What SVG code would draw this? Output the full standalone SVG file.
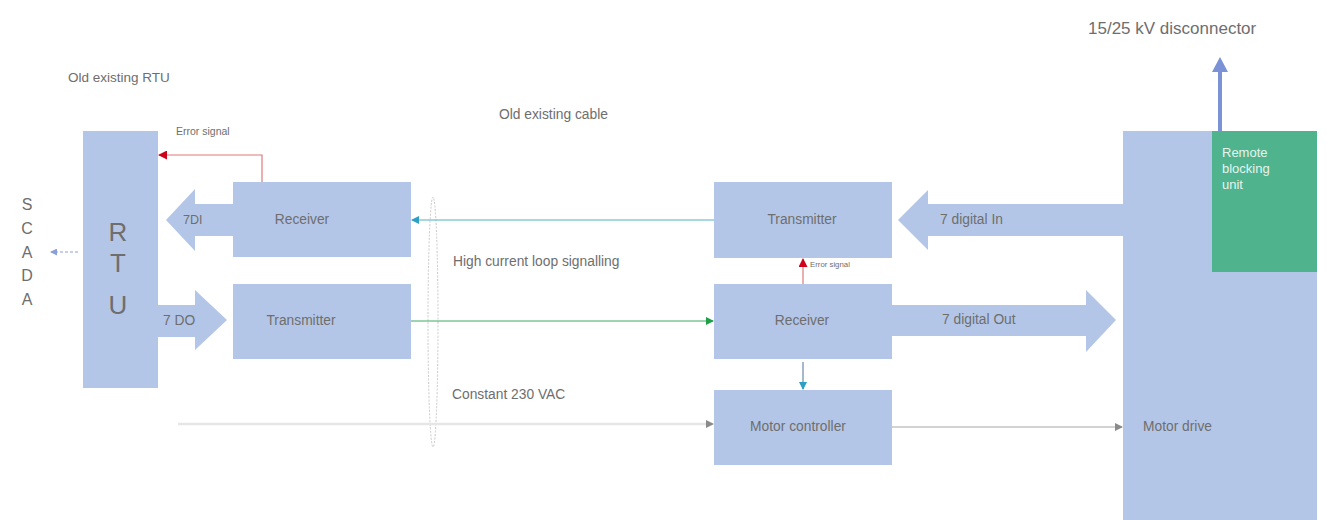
<svg xmlns="http://www.w3.org/2000/svg" width="1327" height="520" viewBox="0 0 1327 520">
<style>
.box{fill:#b4c6e7}
.t{font-family:"Liberation Sans",Arial,sans-serif;font-size:13.8px;fill:#6e6e6e}
.c{text-anchor:middle}
.ln{fill:none;stroke-width:1.2}
.big{font-size:26px}
.sc{font-size:16px}
.w{font-size:13px;fill:#e6f4ee}
</style>
<defs>
<marker id="mCyan" markerWidth="8" markerHeight="8" refX="7" refY="4" orient="auto" markerUnits="userSpaceOnUse"><path d="M0,0 L8,4 L0,8 z" fill="#2b9fc4"/></marker>
<marker id="mGreen" markerWidth="8" markerHeight="8" refX="7" refY="4" orient="auto" markerUnits="userSpaceOnUse"><path d="M0,0 L8,4 L0,8 z" fill="#1e9e45"/></marker>
<marker id="mGray" markerWidth="8" markerHeight="8" refX="7" refY="4" orient="auto" markerUnits="userSpaceOnUse"><path d="M0,0 L8,4 L0,8 z" fill="#8a8a8a"/></marker>
<marker id="mRed" markerWidth="9" markerHeight="9" refX="8" refY="4.5" orient="auto" markerUnits="userSpaceOnUse"><path d="M0,0 L9,4.5 L0,9 z" fill="#d0021b"/></marker>
<marker id="mScada" markerWidth="7" markerHeight="7" refX="6" refY="3.5" orient="auto" markerUnits="userSpaceOnUse"><path d="M0,0 L7,3.5 L0,7 z" fill="#8c9fd8"/></marker>
</defs>
<rect width="1327" height="520" fill="#ffffff"/>

<text class="t" x="68" y="82" style="font-size:13.5px">Old existing RTU</text>
<text class="t" x="499" y="119">Old existing cable</text>
<text class="t" x="453" y="266">High current loop signalling</text>
<text class="t" x="452" y="399">Constant 230 VAC</text>
<text class="t" x="1088" y="34" style="font-size:17px">15/25 kV disconnector</text>

<g id="scada">
<text class="t c sc" x="27" y="210">S</text>
<text class="t c sc" x="27" y="234">C</text>
<text class="t c sc" x="27" y="258">A</text>
<text class="t c sc" x="27" y="281">D</text>
<text class="t c sc" x="27" y="305">A</text>
</g>

<g id="rtu">
<rect class="box" x="83" y="131" width="75" height="257"/>
<text class="t c big" x="118" y="241">R</text>
<text class="t c big" x="118" y="272">T</text>
<text class="t c big" x="118" y="314">U</text>
</g>

<g id="arrow-7di">
<polygon class="box" points="233,204 195,204 195,189 166,220 195,251 195,236 233,236"/>
<text class="t" x="183" y="224" style="font-size:12.5px">7DI</text>
</g>
<g id="arrow-7do">
<polygon class="box" points="158,305 195,305 195,290 227,320 195,350 195,337 158,337"/>
<text class="t" x="163" y="325">7 DO</text>
</g>

<g id="receiver-left">
<rect class="box" x="233" y="182" width="178" height="75"/>
<text class="t c" x="302" y="224">Receiver</text>
</g>
<g id="transmitter-left">
<rect class="box" x="233" y="284" width="178" height="75"/>
<text class="t c" x="301" y="325">Transmitter</text>
</g>

<g id="transmitter-right">
<rect class="box" x="714" y="182" width="178" height="76"/>
<text class="t c" x="802" y="224">Transmitter</text>
</g>
<g id="receiver-right">
<rect class="box" x="714" y="284" width="178" height="75"/>
<text class="t c" x="802" y="325">Receiver</text>
</g>
<g id="motor-controller">
<rect class="box" x="714" y="390" width="178" height="75"/>
<text class="t c" x="798" y="431">Motor controller</text>
</g>

<g id="arrow-digital-in">
<polygon class="box" points="1123,204 928,204 928,190 898,220 928,250 928,236 1123,236"/>
<text class="t" x="940" y="224">7 digital In</text>
</g>
<g id="arrow-digital-out">
<polygon class="box" points="892,305 1086,305 1086,290 1116,320 1086,352 1086,336 892,336"/>
<text class="t" x="942" y="324">7 digital Out</text>
</g>

<g id="motor-drive">
<rect class="box" x="1123" y="131" width="194" height="389"/>
<text class="t" x="1143" y="431">Motor drive</text>
</g>
<g id="remote-blocking-unit">
<rect x="1212" y="131" width="105" height="141" fill="#4fb38e"/>
<text class="t w" x="1222" y="157">Remote</text>
<text class="t w" x="1222" y="173">blocking</text>
<text class="t w" x="1222" y="189">unit</text>
</g>

<g id="connectors">
<ellipse cx="433" cy="322" rx="5" ry="125" fill="none" stroke="#c8c8c8" stroke-width="1" stroke-dasharray="2,1.5"/>
<line class="ln" x1="78" y1="252" x2="51" y2="252" stroke="#8c9fd8" stroke-dasharray="3,2" marker-end="url(#mScada)"/>
<polyline class="ln" points="262,182 262,155 159,155" stroke="#e07a7a" marker-end="url(#mRed)"/>
<text class="t" x="176" y="135" style="font-size:10.5px">Error signal</text>
<line class="ln" x1="714" y1="220" x2="412" y2="220" stroke="#4fb0c8" marker-end="url(#mCyan)"/>
<line class="ln" x1="411" y1="321" x2="713" y2="321" stroke="#3aaa6a" marker-end="url(#mGreen)"/>
<line x1="178" y1="424" x2="713" y2="424" stroke="#e6e6e6" stroke-width="2.5"/>
<line x1="700" y1="424" x2="713" y2="424" stroke="#e6e6e6" stroke-width="1" marker-end="url(#mGray)"/>
<line class="ln" x1="892" y1="427" x2="1122" y2="427" stroke="#a8a8a8" marker-end="url(#mGray)"/>
<line class="ln" x1="803" y1="284" x2="803" y2="259" stroke="#e07a7a" marker-end="url(#mRed)"/>
<text class="t" x="810" y="267" style="font-size:7.8px">Error signal</text>
<line class="ln" x1="803" y1="362" x2="803" y2="389" stroke="#6a8aa8" marker-end="url(#mCyan)"/>
<line x1="1220" y1="131" x2="1220" y2="70" stroke="#7b92d6" stroke-width="4"/>
<polygon points="1212,72 1220,57 1228,72" fill="#7b92d6"/>
</g>
</svg>
